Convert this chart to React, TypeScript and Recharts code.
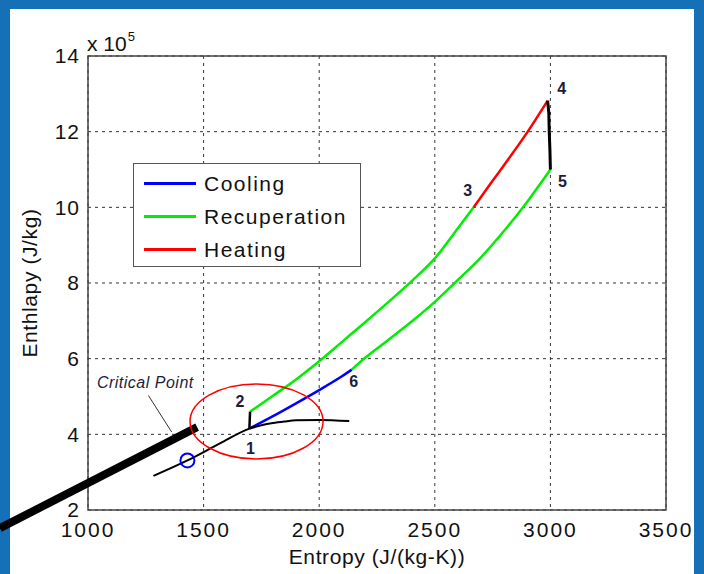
import React from 'react';
import {
  LineChart,
  Line,
  XAxis,
  YAxis,
  CartesianGrid,
  ReferenceArea,
  ReferenceDot,
  ReferenceLine,
  Legend,
} from 'recharts';

// entropy (J/(kg-K)) and enthalpy (x 10^5 J/kg)
const satS = [1283, 1430, 1571, 1698, 1750, 1800, 1850, 1900, 2000, 2130];
const satH = [2.9, 3.31, 3.76, 4.15, 4.24, 4.3, 4.34, 4.37, 4.38, 4.35];

const coolS = [1698, 1800, 1900, 2000, 2100, 2141];
const coolH = [4.15, 4.48, 4.82, 5.17, 5.54, 5.71];

const recupHiS = [1701, 1800, 1900, 2000, 2100, 2200, 2300, 2400, 2500, 2600, 2668];
const recupHiH = [4.6, 5.02, 5.45, 5.93, 6.45, 6.97, 7.5, 8.05, 8.65, 9.45, 10.0];

const recupLoS = [2141, 2200, 2300, 2400, 2500, 2600, 2700, 2800, 2900, 3000];
const recupLoH = [5.71, 6.03, 6.5, 6.98, 7.5, 8.08, 8.68, 9.38, 10.15, 11.0];

const heatS = [2668, 2750, 2800, 2902, 2988];
const heatH = [10.0, 10.7, 11.12, 12.0, 12.82];

const step12S = [1698, 1701];
const step12H = [4.15, 4.6];

const step45S = [2988, 2993, 2995, 2998, 3000];
const step45H = [12.82, 12.5, 12.0, 11.5, 11.0];

const xTicks = [1000, 1500, 2000, 2500, 3000, 3500];
const yTicks = [2, 4, 6, 8, 10, 12, 14];

const legendOrder = ['Cooling', 'Recuperation', 'Heating'];

const pointLabels = [
  { id: '1', s: 1698, h: 4.15, dx: 1, dy: 20 },
  { id: '2', s: 1701, h: 4.6, dx: -10, dy: -10 },
  { id: '3', s: 2668, h: 10.0, dx: -6, dy: -17 },
  { id: '4', s: 2988, h: 12.82, dx: 14, dy: -12 },
  { id: '5', s: 3000, h: 11.0, dx: 12, dy: 12 },
  { id: '6', s: 2141, h: 5.71, dx: 2, dy: 12 },
];

const critical = { s: 1430, h: 3.31 };
const ellipseCenter = { s: 1729, h: 4.34 };
const pointerLine = [
  { x: 619, y: 1.52 },
  { x: 1472, y: 4.19 },
];
const calloutLine = [
  { x: 1261, y: 5.03 },
  { x: 1362, y: 4.06 },
];

const pts = (s: number[], h: number[]) => s.map((x, i) => ({ x, y: h[i] }));

const FONT = 'Liberation Sans, Arial, sans-serif';

function LegendBox({ payload }: any) {
  const items = legendOrder
    .map((name) => (payload || []).find((p: any) => p.value === name))
    .filter(Boolean);
  return (
    <div
      style={{
        border: '1.5px solid #555',
        background: '#fff',
        width: 228,
        height: 104,
        boxSizing: 'border-box',
        padding: '3px 0 0 10px',
        fontFamily: FONT,
      }}
    >
      {items.map((p: any) => (
        <div key={p.value} style={{ display: 'flex', alignItems: 'center', height: 33 }}>
          <span style={{ display: 'inline-block', width: 52, height: 3, background: p.color }} />
          <span style={{ marginLeft: 8, fontSize: 21, letterSpacing: 1.5, color: '#111' }}>
            {p.value}
          </span>
        </div>
      ))}
    </div>
  );
}

export default function App() {
  return (
    <div
      style={{
        position: 'absolute',
        left: 0,
        top: 0,
        width: 704,
        height: 574,
        background: '#1570b8',
        overflow: 'hidden',
      }}
    >
      <div
        style={{ position: 'absolute', left: 10, top: 9, width: 684, height: 565, background: '#fff' }}
      />
      <div
        style={{
          position: 'absolute',
          left: 87,
          top: 33,
          fontFamily: FONT,
          fontSize: 21,
          lineHeight: 1,
          color: '#111',
        }}
      >
        x 10<span style={{ position: 'relative', top: -10, fontSize: 13, marginLeft: 1 }}>5</span>
      </div>
      <div style={{ position: 'absolute', left: 0, top: 0 }}>
        <LineChart
          width={704}
          height={574}
          margin={{ top: 56, right: 38, bottom: 8, left: 0 }}
          style={{ fontFamily: FONT }}
        >
          <CartesianGrid stroke="#333" strokeDasharray="3 4" />
          <XAxis
            dataKey="x"
            type="number"
            domain={[1000, 3500]}
            ticks={xTicks}
            height={56}
            axisLine={false}
            tickLine={false}
            tickSize={8}
            tickMargin={4}
            tick={{ fontSize: 21, fill: '#111', letterSpacing: 2 }}
            label={{
              value: 'Entropy (J/(kg-K))',
              position: 'insideBottom',
              offset: 2,
              style: { fontSize: 21, fill: '#111', letterSpacing: 0.6 },
            }}
          />
          <YAxis
            type="number"
            domain={[2, 14]}
            ticks={yTicks}
            width={88}
            axisLine={false}
            tickLine={false}
            tickSize={6}
            tickMargin={2}
            tick={{ fontSize: 21, fill: '#111', letterSpacing: 1 }}
            label={{
              value: 'Enthlapy (J/kg)',
              angle: -90,
              position: 'insideLeft',
              offset: 30,
              style: { fontSize: 21, fill: '#111', textAnchor: 'middle', letterSpacing: 0.6 },
            }}
          />
          <ReferenceArea
            x1={1000}
            x2={3500}
            y1={2}
            y2={14}
            fill="none"
            fillOpacity={0}
            stroke="#444"
            strokeWidth={1.5}
          />
          <Legend
            layout="vertical"
            align="center"
            verticalAlign="middle"
            content={<LegendBox />}
            wrapperStyle={{ left: 133, top: 163, width: 228 }}
          />
          <Line
            name="Cooling"
            type="monotone"
            data={pts(coolS, coolH)}
            dataKey="y"
            stroke="#0000ff"
            strokeWidth={2.5}
            dot={false}
            isAnimationActive={false}
          />
          <Line
            name="Recuperation"
            type="monotone"
            data={pts(recupHiS, recupHiH)}
            dataKey="y"
            stroke="#00ee00"
            strokeWidth={2.5}
            dot={false}
            isAnimationActive={false}
          />
          <Line
            name="Heating"
            type="monotone"
            data={pts(heatS, heatH)}
            dataKey="y"
            stroke="#ff0000"
            strokeWidth={2.5}
            dot={false}
            isAnimationActive={false}
          />
          <Line
            name="recup-low"
            type="monotone"
            legendType="none"
            data={pts(recupLoS, recupLoH)}
            dataKey="y"
            stroke="#00ee00"
            strokeWidth={2.5}
            dot={false}
            isAnimationActive={false}
          />
          <Line
            name="saturation"
            type="monotone"
            legendType="none"
            data={pts(satS, satH)}
            dataKey="y"
            stroke="#000"
            strokeWidth={2}
            dot={false}
            isAnimationActive={false}
          />
          <Line
            name="step12"
            legendType="none"
            data={pts(step12S, step12H)}
            dataKey="y"
            stroke="#000"
            strokeWidth={2.5}
            dot={false}
            isAnimationActive={false}
          />
          <Line
            name="step45"
            legendType="none"
            data={pts(step45S, step45H)}
            dataKey="y"
            stroke="#000"
            strokeWidth={3}
            dot={false}
            isAnimationActive={false}
          />
          <ReferenceDot
            x={critical.s}
            y={critical.h}
            r={7}
            fill="none"
            stroke="#0000ff"
            strokeWidth={2}
          />
          <ReferenceDot
            x={ellipseCenter.s}
            y={ellipseCenter.h}
            r={1}
            shape={(p: any) => (
              <ellipse cx={p.cx} cy={p.cy} rx={66.5} ry={37.5} fill="none" stroke="#ff0000" strokeWidth={1.5} />
            )}
          />
          <ReferenceLine segment={calloutLine} stroke="#333" strokeWidth={1} ifOverflow="visible" />
          <ReferenceDot
            x={calloutLine[0].x}
            y={calloutLine[0].y}
            r={1}
            shape={(p: any) => (
              <text
                x={p.cx - 3}
                y={p.cy - 13}
                textAnchor="middle"
                dominantBaseline="central"
                fontSize={16}
                fontStyle="italic"
                letterSpacing={0.5}
                fill="#1c1c3c"
                fontFamily={FONT}
              >
                Critical Point
              </text>
            )}
          />
          <ReferenceLine segment={pointerLine} stroke="#000" strokeWidth={8} ifOverflow="visible" />
          {pointLabels.map((l) => (
            <ReferenceDot
              key={l.id}
              x={l.s}
              y={l.h}
              r={1}
              shape={(p: any) => (
                <text
                  x={p.cx + l.dx}
                  y={p.cy + l.dy}
                  textAnchor="middle"
                  dominantBaseline="central"
                  fontSize={16}
                  fontWeight="bold"
                  fill="#1c1c3c"
                  fontFamily={FONT}
                >
                  {l.id}
                </text>
              )}
            />
          ))}
        </LineChart>
      </div>
    </div>
  );
}
